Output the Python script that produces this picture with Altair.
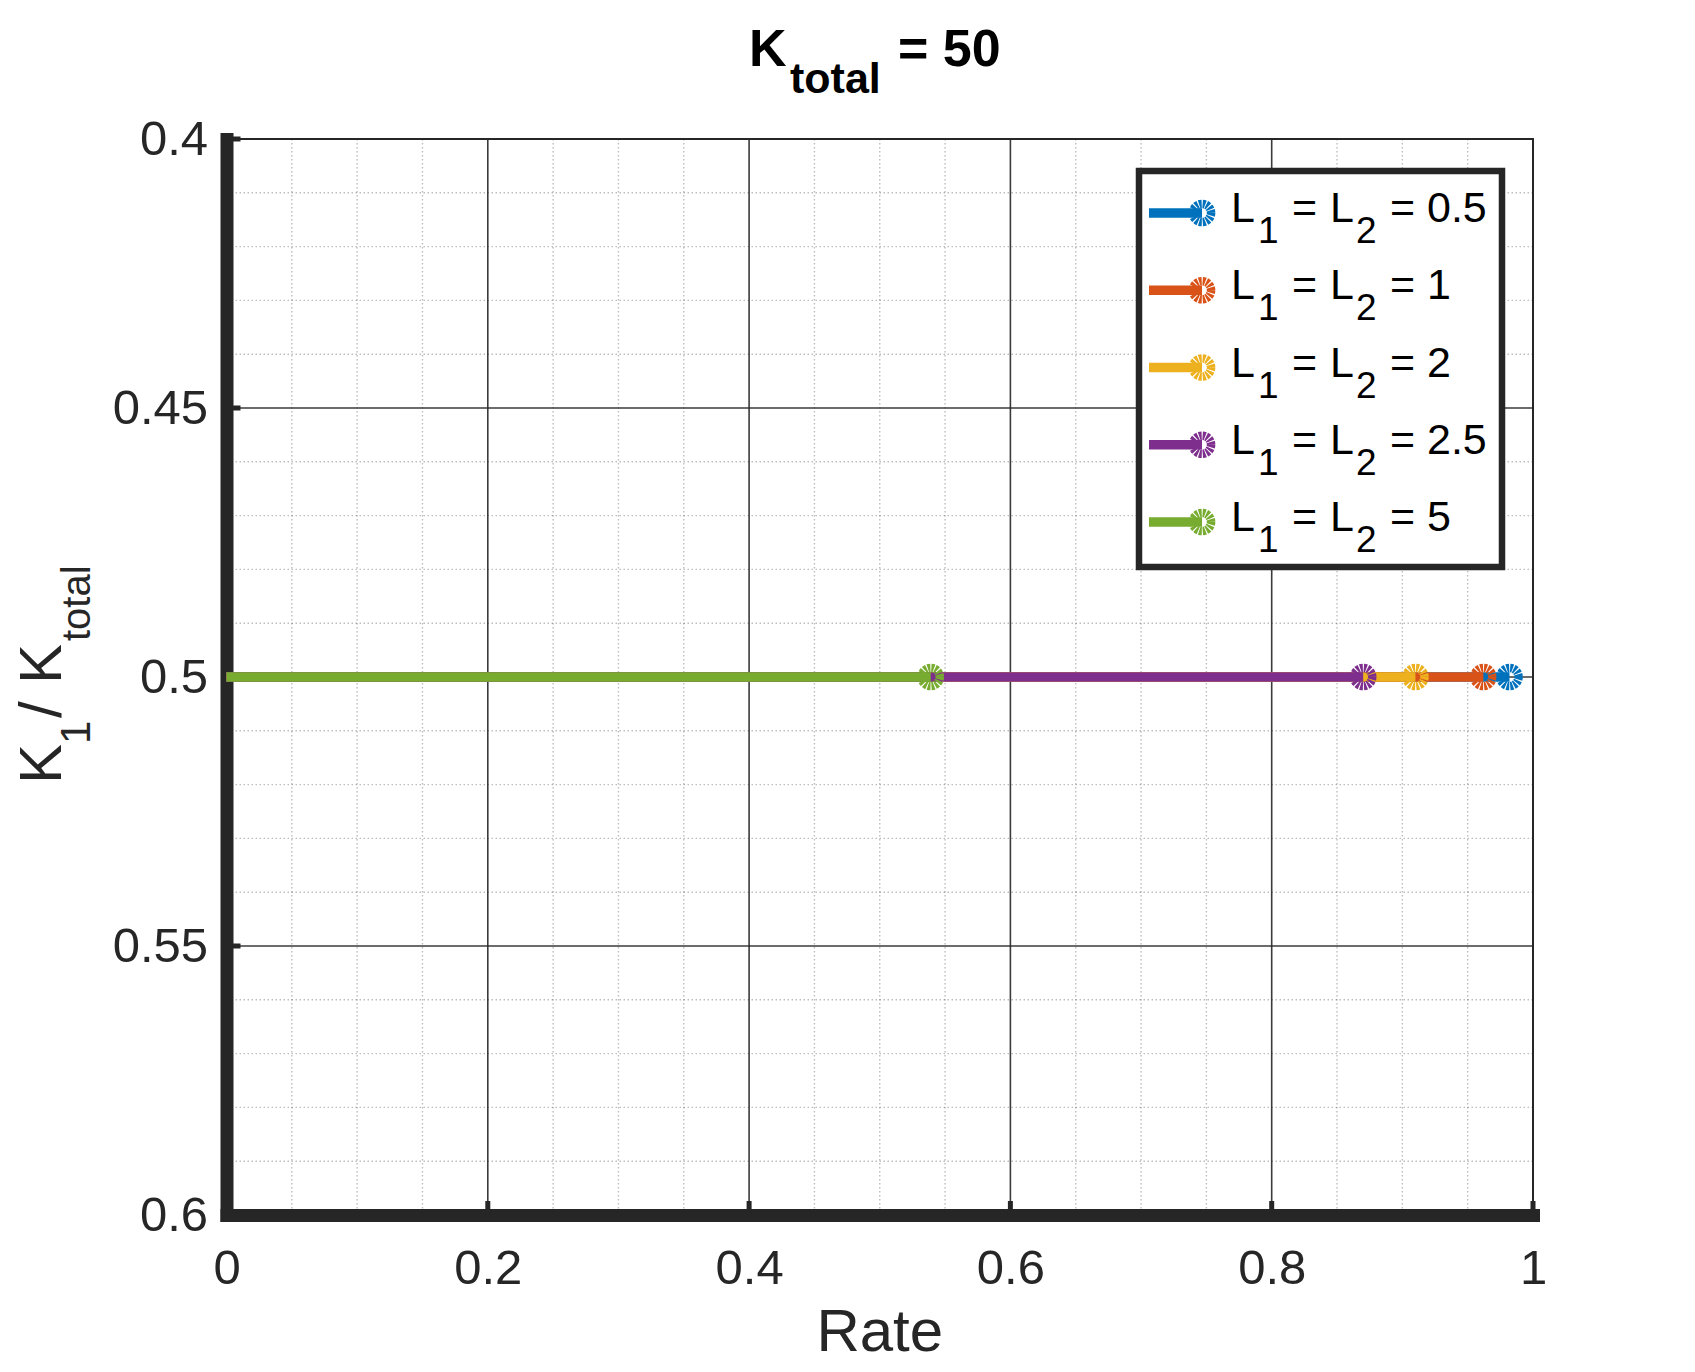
import altair as alt
import pandas as pd

# ---------------- data ----------------
series_L = ["0.5", "1", "2", "2.5", "5"]
rate_end = [0.982, 0.962, 0.910, 0.870, 0.539]
ratio = [0.5, 0.5, 0.5, 0.5, 0.5]
colors = ["#0072BD", "#D95319", "#EDB120", "#7E2F8E", "#77AC30"]

x_ticks = [0, 0.2, 0.4, 0.6, 0.8, 1]
y_ticks = [0.4, 0.45, 0.5, 0.55, 0.6]
x_major_grid = [0.2, 0.4, 0.6, 0.8]
y_major_grid = [0.45, 0.5, 0.55]
x_minor = [round(k * 0.05, 2) for k in range(1, 20) if k % 4 != 0]
y_minor = [round(0.4 + k * 0.01, 2) for k in range(1, 20) if k % 5 != 0]

# ---------------- layout ----------------
W, H = 1306.5, 1076
FONT = "Liberation Sans"
AX = "#262626"
MSIZE, MSW, MDASH = 330, 8.5, [2.6, 1.0]

xs = alt.Scale(domain=[0, 1], nice=False, zero=False)
ys = alt.Scale(domain=[0.4, 0.6], reverse=True, nice=False, zero=False)

xaxis = alt.Axis(values=x_ticks, format="~g", grid=False, ticks=False,
                 domainWidth=13, domainColor=AX, domainCap="square",
                 labelFont=FONT, labelFontSize=49, labelColor=AX,
                 labelPadding=29, labelFlush=False, labelOverlap=False,
                 title=None)
yaxis = alt.Axis(values=y_ticks, format="~g", grid=False, ticks=False,
                 domainWidth=13, domainColor=AX, domainCap="square",
                 labelFont=FONT, labelFontSize=49, labelColor=AX,
                 labelPadding=19, labelFlush=False, labelOverlap=False,
                 title=None)


def X(field):
    return alt.X(field, type="quantitative", scale=xs, axis=xaxis)


def Y(field):
    return alt.Y(field, type="quantitative", scale=ys, axis=yaxis)


one = pd.DataFrame({"a": [0]})
layers = []

# minor grid
layers.append(alt.Chart(pd.DataFrame({"v": x_minor})).mark_rule(
    color=AX, opacity=0.3, strokeWidth=1.4, strokeDash=[1.5, 2.5]).encode(x=X("v")))
layers.append(alt.Chart(pd.DataFrame({"v": y_minor})).mark_rule(
    color=AX, opacity=0.3, strokeWidth=1.4, strokeDash=[1.5, 2.5]).encode(y=Y("v")))
# major grid
layers.append(alt.Chart(pd.DataFrame({"v": x_major_grid})).mark_rule(
    color=AX, opacity=0.9, strokeWidth=1.6).encode(x=X("v")))
layers.append(alt.Chart(pd.DataFrame({"v": y_major_grid})).mark_rule(
    color=AX, opacity=0.9, strokeWidth=1.6).encode(y=Y("v")))
# inward ticks
layers.append(alt.Chart(pd.DataFrame({"v": x_ticks})).mark_rule(
    color=AX, strokeWidth=5).encode(x=X("v"), y=alt.value(H), y2=alt.value(H - 14)))
layers.append(alt.Chart(pd.DataFrame({"v": y_ticks})).mark_rule(
    color=AX, strokeWidth=5).encode(y=Y("v"), x=alt.value(0), x2=alt.value(14)))

# data lines
for i in range(len(series_L)):
    df = pd.DataFrame({"rate": [0.0, rate_end[i]], "ratio": [ratio[i], ratio[i]]})
    layers.append(alt.Chart(df).mark_line(
        color=colors[i], strokeWidth=9.5, strokeCap="butt").encode(x=X("rate"), y=Y("ratio")))

# end markers (drawn after all lines)
for i in reversed(range(len(series_L))):
    df = pd.DataFrame({"rate": [rate_end[i]], "ratio": [ratio[i]]})
    layers.append(alt.Chart(df).mark_point(
        shape="circle", filled=False, size=MSIZE, strokeWidth=MSW,
        strokeDash=MDASH, color=colors[i], opacity=1).encode(x=X("rate"), y=Y("ratio")))

# ---------------- legend ----------------
layers.append(alt.Chart(one).mark_rect(fill="white", stroke=AX, strokeWidth=6.5).encode(
    x=alt.value(912.5), x2=alt.value(1275.5), y=alt.value(32), y2=alt.value(428)))
row0, dy = 74, 77.25
for i in range(len(series_L)):
    ry = row0 + i * dy
    layers.append(alt.Chart(one).mark_rule(color=colors[i], strokeWidth=9.5).encode(
        x=alt.value(922.5), x2=alt.value(975.5), y=alt.value(ry)))
    layers.append(alt.Chart(one).mark_point(
        shape="circle", filled=False, size=MSIZE, strokeWidth=MSW,
        strokeDash=MDASH, color=colors[i], opacity=1).encode(
        x=alt.value(975.5), y=alt.value(ry)))
    segs = [("L", 1004.5, 43, 9), ("1", 1031.5, 37, 30), ("=", 1065.5, 43, 9),
            ("L", 1103.5, 43, 9), ("2", 1129.5, 37, 30), ("=", 1163.5, 43, 9),
            (series_L[i], 1200.5, 43, 9)]
    for txt, tx, fs, off in segs:
        layers.append(alt.Chart(one).mark_text(
            text=txt, align="left", baseline="alphabetic", font=FONT,
            fontSize=fs, color="black").encode(x=alt.value(tx), y=alt.value(ry + off)))

# ---------------- titles ----------------
for txt, tx, ty, fs in [("K", 522.5, -73, 52), ("total", 563.5, -46, 43), ("= 50", 671.5, -73, 52)]:
    layers.append(alt.Chart(one).mark_text(
        text=txt, align="left", baseline="alphabetic", font=FONT, fontWeight="bold",
        fontSize=fs, color="black").encode(x=alt.value(tx), y=alt.value(ty)))

layers.append(alt.Chart(one).mark_text(
    text="Rate", align="center", baseline="alphabetic", font=FONT,
    fontSize=60, color=AX).encode(x=alt.value(W / 2), y=alt.value(1212)))

for txt, tx, ty, fs in [("K", -165.5, 645, 60), ("1", -136.5, 605, 42), ("/", -165.5, 579, 60),
                        ("K", -165.5, 545, 60), ("total", -136.5, 502, 40)]:
    layers.append(alt.Chart(one).mark_text(
        text=txt, align="left", baseline="alphabetic", angle=270, font=FONT,
        fontSize=fs, color=AX).encode(x=alt.value(tx), y=alt.value(ty)))

chart = alt.layer(*layers).properties(
    width=W, height=H,
    autosize=alt.AutoSizeParams(type="none"),
    padding={"left": 218.5, "top": 131, "right": 154, "bottom": 149},
    background="white",
).configure_view(stroke=AX, strokeWidth=2)

chart.save("out.html", embed_options={"renderer": "svg", "actions": False})
